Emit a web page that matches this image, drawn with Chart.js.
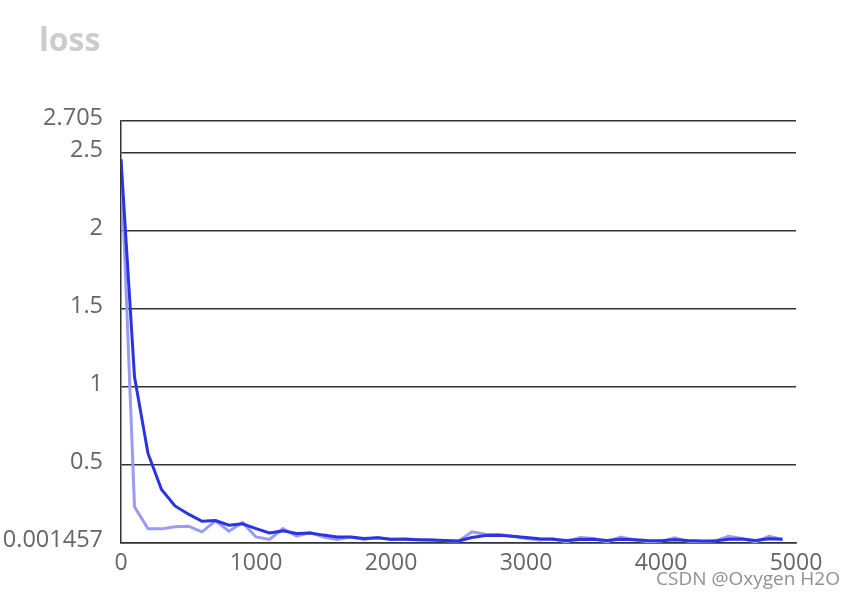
<!DOCTYPE html>
<html>
<head>
<meta charset="utf-8">
<script src="https://cdn.jsdelivr.net/npm/chart.js@4/dist/chart.umd.min.js"></script>
<style>
  html, body { margin: 0; padding: 0; background: #fff; }
  #wrap { width: 856px; height: 602px; position: relative; }
</style>
</head>
<body>
<div id="wrap"><canvas id="lossChart"></canvas></div>
<script>
// training steps (x) and loss values
const steps = [0, 100, 200, 300, 400, 500, 600, 700, 800, 900,
  1000, 1100, 1200, 1300, 1400, 1500, 1600, 1700, 1800, 1900,
  2000, 2100, 2200, 2300, 2400, 2500, 2600, 2700, 2800, 2900,
  3000, 3100, 3200, 3300, 3400, 3500, 3600, 3700, 3800, 3900,
  4000, 4100, 4200, 4300, 4400, 4500, 4600, 4700, 4800, 4900];

// raw loss (light line)
const lossRaw = [2.46, 0.233, 0.092, 0.092, 0.105, 0.109, 0.073, 0.143, 0.077, 0.133,
  0.040, 0.024, 0.094, 0.045, 0.068, 0.040, 0.024, 0.040, 0.024, 0.037,
  0.024, 0.028, 0.022, 0.020, 0.016, 0.013, 0.073, 0.058, 0.056, 0.045,
  0.030, 0.020, 0.028, 0.008, 0.037, 0.030, 0.008, 0.040, 0.022, 0.010,
  0.012, 0.035, 0.012, 0.010, 0.014, 0.045, 0.030, 0.008, 0.045, 0.024];

// smoothed loss (dark line)
const lossSmooth = [2.46, 1.066, 0.575, 0.344, 0.239, 0.186, 0.141, 0.145, 0.115, 0.124,
  0.094, 0.066, 0.079, 0.062, 0.066, 0.052, 0.040, 0.040, 0.030, 0.035,
  0.026, 0.025, 0.023, 0.021, 0.018, 0.015, 0.037, 0.049, 0.051, 0.045,
  0.037, 0.028, 0.026, 0.018, 0.024, 0.025, 0.018, 0.026, 0.022, 0.018,
  0.016, 0.023, 0.018, 0.015, 0.015, 0.026, 0.027, 0.018, 0.028, 0.025];

const yTicks = [0.001457, 0.5, 1, 1.5, 2, 2.5, 2.705];
const xTicks = [0, 1000, 2000, 3000, 4000, 5000];

const titleText = 'loss';
const watermark = 'CSDN @Oxygen H2O';

// title + watermark drawn straight on the canvas
const extraText = {
  id: 'extraText',
  afterDraw(chart) {
    const ctx = chart.ctx;
    ctx.save();
    ctx.font = 'bold 32px "Open Sans", sans-serif';
    ctx.fillStyle = '#cccccc';
    ctx.textAlign = 'left';
    ctx.textBaseline = 'middle';
    ctx.fillText(titleText, 39, 42);

    ctx.font = '19px "Open Sans", sans-serif';
    ctx.textAlign = 'right';
    ctx.lineWidth = 2;
    ctx.strokeStyle = 'rgba(255,255,255,0.8)';
    ctx.strokeText(watermark, 840, 580);
    ctx.fillStyle = 'rgba(125,125,125,0.85)';
    ctx.fillText(watermark, 840, 580);
    ctx.restore();
  }
};

const ctx = document.getElementById('lossChart').getContext('2d');
new Chart(ctx, {
  type: 'line',
  data: {
    datasets: [{
      label: 'smoothed',
      data: steps.map((s, i) => ({ x: s, y: lossSmooth[i] })),
      borderColor: '#2b33e2',
      borderWidth: 3,
      pointRadius: 0,
      tension: 0,
    }, {
      label: 'raw',
      data: steps.map((s, i) => ({ x: s, y: lossRaw[i] })),
      borderColor: '#999cf2',
      borderWidth: 3,
      pointRadius: 0,
      tension: 0,
    }],
  },
  options: {
    responsive: true,
    maintainAspectRatio: false,
    animation: false,
    layout: { padding: { top: 121, right: 60, left: 0, bottom: 0 } },
    plugins: {
      legend: { display: false },
      tooltip: { enabled: false },
    },
    scales: {
      x: {
        type: 'linear',
        min: 0,
        max: 5000,
        afterFit: (scale) => { scale.height = 59; },
        afterBuildTicks: (scale) => { scale.ticks = xTicks.map(v => ({ value: v })); },
        ticks: {
          color: '#666',
          font: { family: '"Open Sans", sans-serif', size: 23 },
          padding: 7,
          maxRotation: 0,
          callback: (v) => String(v),
        },
        grid: { display: false, drawTicks: false },
        border: { display: true, color: '#333', width: 1.5 },
      },
      y: {
        type: 'linear',
        min: 0.001457,
        max: 2.705,
        afterFit: (scale) => { scale.width = 121; },
        afterBuildTicks: (scale) => { scale.ticks = yTicks.map(v => ({ value: v })); },
        ticks: {
          color: '#666',
          font: { family: '"Open Sans", sans-serif', size: 23.5 },
          padding: 18,
          labelOffset: -3,
          callback: (v) => String(v),
        },
        grid: { color: '#333', lineWidth: 1.5, drawTicks: false },
        border: { display: true, color: '#333', width: 1.5 },
      },
    },
  },
  plugins: [extraText],
});
</script>
</body>
</html>
